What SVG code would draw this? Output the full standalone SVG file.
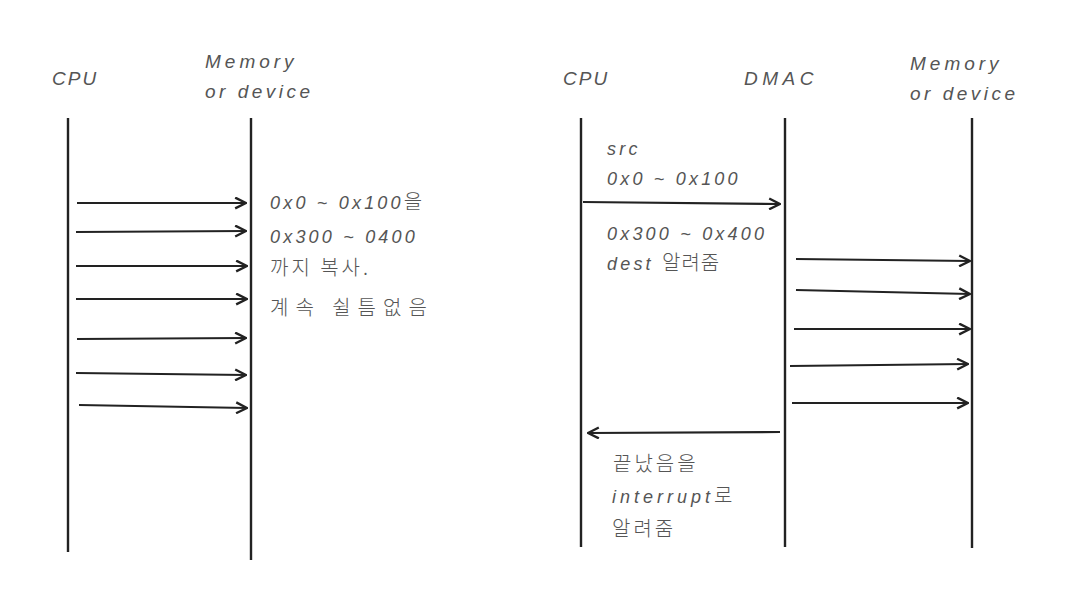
<svg xmlns="http://www.w3.org/2000/svg" width="1072" height="604" viewBox="0 0 1072 604">
<defs>
<marker id="ah" viewBox="0 0 12 12" refX="11" refY="6" markerWidth="13" markerHeight="13" markerUnits="userSpaceOnUse" orient="auto">
<path d="M1 1 L11 6 L1 11" fill="none" stroke="#222" stroke-width="2.2"/>
</marker>
<style>
.life{stroke:#222;stroke-width:2.4;fill:none}
.arr{stroke:#222;stroke-width:2.2;fill:none;marker-end:url(#ah)}
.hd{font-family:"Liberation Sans","Noto Sans CJK KR",sans-serif;font-style:italic;font-size:19px;fill:#555;letter-spacing:4px}
.lb{font-family:"Liberation Sans","Noto Sans CJK KR",sans-serif;font-style:italic;font-size:18px;fill:#555;letter-spacing:3.2px}
.ko{font-family:"Noto Sans CJK KR",sans-serif;font-style:normal;font-size:20px;font-weight:300}
</style>
</defs>
<rect width="1072" height="604" fill="#fff"/>
<g id="left-cpu"><text class="hd" x="52" y="85" style="letter-spacing:2px">CPU</text><line class="life" x1="68" y1="118" x2="68" y2="552"/></g>
<g id="left-mem"><text class="hd" x="205" y="68">Memory</text><text class="hd" x="205" y="98" style="letter-spacing:3.5px">or device</text><line class="life" x1="251" y1="118" x2="251" y2="560"/></g>
<g id="right-cpu"><text class="hd" x="563" y="85" style="letter-spacing:2px">CPU</text><line class="life" x1="581" y1="118" x2="581" y2="547"/></g>
<g id="right-dmac"><text class="hd" x="744" y="85" style="letter-spacing:4.5px">DMAC</text><line class="life" x1="785" y1="118" x2="785" y2="547"/></g>
<g id="right-mem"><text class="hd" x="910" y="70">Memory</text><text class="hd" x="910" y="100" style="letter-spacing:3.5px">or device</text><line class="life" x1="972" y1="118" x2="972" y2="548"/></g>
<g id="connectors">
<line class="arr" x1="77" y1="203" x2="246" y2="203"/>
<line class="arr" x1="76" y1="232" x2="246" y2="231"/>
<line class="arr" x1="76" y1="266" x2="247" y2="266"/>
<line class="arr" x1="76" y1="299" x2="247" y2="299"/>
<line class="arr" x1="77" y1="339" x2="246" y2="338"/>
<line class="arr" x1="76" y1="373" x2="246" y2="375"/>
<line class="arr" x1="79" y1="405" x2="247" y2="408"/>
<line class="arr" x1="583" y1="202" x2="780" y2="204"/>
<line class="arr" x1="780" y1="432" x2="588" y2="433"/>
<line class="arr" x1="796" y1="259" x2="970" y2="261"/>
<line class="arr" x1="796" y1="290" x2="970" y2="294"/>
<line class="arr" x1="794" y1="329" x2="970" y2="329"/>
<line class="arr" x1="790" y1="366" x2="968" y2="364"/>
<line class="arr" x1="792" y1="403" x2="968" y2="403"/>
</g>
<g id="labels">
<text class="lb" x="270" y="209">0x0 ~ 0x100<tspan class="ko">을</tspan></text>
<text class="lb" x="270" y="243">0x300 ~ 0400</text>
<text class="lb" x="270" y="275"><tspan class="ko" style="letter-spacing:3px">까지 복사.</tspan></text>
<text class="lb" x="270" y="315"><tspan class="ko" style="letter-spacing:7px">계속 쉴틈없음</tspan></text>
<text class="lb" x="607" y="155">src</text>
<text class="lb" x="607" y="185">0x0 ~ 0x100</text>
<text class="lb" x="607" y="240">0x300 ~ 0x400</text>
<text class="lb" x="607" y="270">dest <tspan class="ko" style="letter-spacing:1px">알려줌</tspan></text>
<text class="lb" x="613" y="471"><tspan class="ko" style="letter-spacing:3px">끝났음을</tspan></text>
<text class="lb" x="612" y="503" style="letter-spacing:4px">interrupt<tspan class="ko" style="letter-spacing:0">로</tspan></text>
<text class="lb" x="612" y="536"><tspan class="ko" style="letter-spacing:3px">알려줌</tspan></text>
</g>
</svg>
